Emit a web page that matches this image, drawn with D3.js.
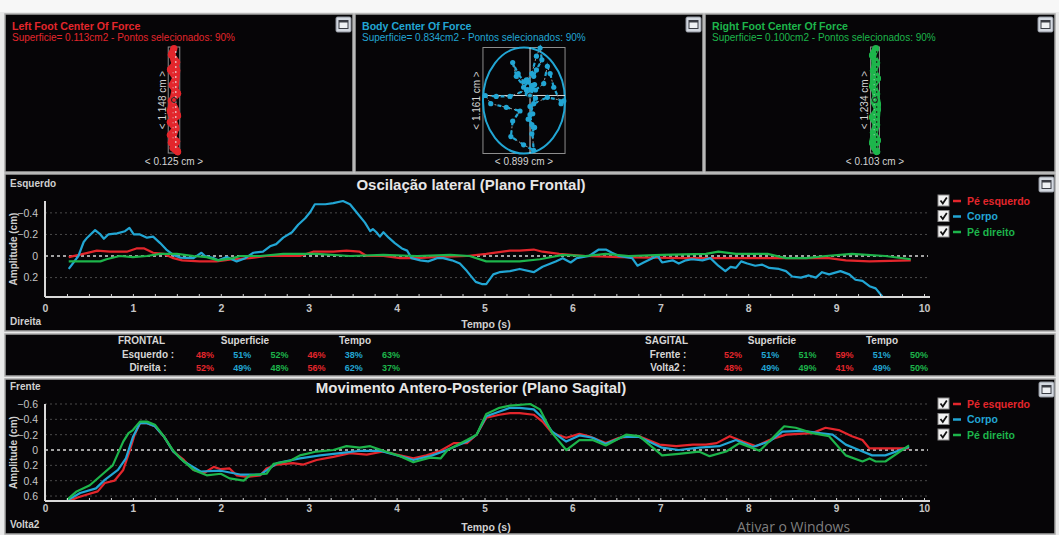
<!doctype html>
<html>
<head>
<meta charset="utf-8">
<script src="https://cdnjs.cloudflare.com/ajax/libs/d3/7.8.5/d3.min.js"></script>
<style>
body { margin: 0; background: #e9e9e9; }
svg { display: block; font-family: "Liberation Sans", Arial, sans-serif; }
</style>
</head>
<body>
<svg width="1059" height="535"></svg>
<script>
// series
const seriesNames = ["Pé esquerdo", "Corpo", "Pé direito"];
const seriesColors = ["#e3262c", "#22a6d4", "#1db54b"];

// ticks
const xTicks = [0, 1, 2, 3, 4, 5, 6, 7, 8, 9, 10];
const frontalTicks = [-0.4, -0.2, 0, 0.2];
const sagitalTicks = [-0.6, -0.4, -0.2, 0, 0.2, 0.4, 0.6];

// lateral oscillation (t s, amplitude cm)
const frontalEsq = [[0.27,0.01],[0.46,-0.025],[0.59,-0.05],[0.74,-0.04],[0.93,-0.04],[1.04,-0.07],[1.13,-0.07],[1.23,-0.03],[1.35,-0.02],[1.46,0.02],[1.56,0.04],[1.76,0.05],[1.95,0.05],[2.14,0.03],[2.33,0.02],[2.52,0],[2.9,0],[3.05,-0.04],[3.28,-0.04],[3.43,-0.05],[3.58,-0.04],[3.66,0],[3.85,0],[4.04,0.02],[4.23,0.02],[4.42,0.01],[4.8,0],[5.02,-0.02],[5.29,-0.05],[5.4,-0.05],[5.56,-0.06],[5.66,-0.04],[5.85,-0.02],[6.15,0],[6.53,0.01],[7.29,0.02],[7.86,0.02],[8.43,0.02],[8.92,0.02],[9.11,0.04],[9.38,0.05],[9.85,0.04]];
const frontalCorpo = [[0.27,0.12],[0.38,0],[0.44,-0.13],[0.48,-0.17],[0.57,-0.24],[0.63,-0.2],[0.67,-0.16],[0.72,-0.2],[0.82,-0.21],[0.91,-0.23],[0.96,-0.26],[1.01,-0.2],[1.08,-0.2],[1.16,-0.17],[1.23,-0.18],[1.31,-0.12],[1.38,-0.06],[1.46,-0.01],[1.54,0.015],[1.69,0.02],[1.78,-0.03],[1.82,0],[1.92,0.02],[1.97,0.04],[2.07,0.01],[2.18,0.05],[2.28,0.02],[2.37,-0.03],[2.48,-0.04],[2.56,-0.09],[2.63,-0.11],[2.71,-0.17],[2.81,-0.22],[2.88,-0.29],[2.96,-0.35],[3.02,-0.41],[3.07,-0.48],[3.19,-0.48],[3.28,-0.49],[3.39,-0.51],[3.47,-0.48],[3.56,-0.39],[3.64,-0.31],[3.7,-0.23],[3.73,-0.25],[3.77,-0.22],[3.81,-0.18],[3.85,-0.22],[3.91,-0.17],[3.98,-0.12],[4.06,-0.07],[4.12,-0.05],[4.17,0.02],[4.27,0.04],[4.36,0.05],[4.46,0.02],[4.53,0.02],[4.63,0.04],[4.72,0.07],[4.8,0.14],[4.86,0.2],[4.9,0.24],[4.97,0.26],[5.02,0.26],[5.1,0.17],[5.17,0.15],[5.29,0.14],[5.4,0.12],[5.56,0.15],[5.66,0.1],[5.81,0.05],[5.89,0.02],[5.98,0.06],[6.05,0.02],[6.19,0],[6.3,-0.06],[6.38,-0.06],[6.45,-0.03],[6.53,0],[6.68,0.02],[6.74,0.09],[6.81,0.06],[6.91,0.02],[6.97,0],[7.02,0.06],[7.14,0.04],[7.21,0.07],[7.29,0.04],[7.36,0.03],[7.48,0.04],[7.57,0.02],[7.66,0.09],[7.74,0.14],[7.8,0.1],[7.86,0.11],[7.92,0.05],[7.99,0.07],[8.08,0.09],[8.16,0.08],[8.24,0.11],[8.35,0.12],[8.43,0.14],[8.5,0.19],[8.6,0.2],[8.69,0.18],[8.77,0.2],[8.84,0.15],[8.92,0.17],[9.05,0.14],[9.15,0.17],[9.22,0.22],[9.3,0.23],[9.38,0.28],[9.45,0.3],[9.53,0.38],[9.85,0.38]];
const frontalDir = [[0.27,0.05],[0.44,0.05],[0.63,0.05],[0.7,0.03],[0.85,0],[1,0.01],[1.16,0],[1.31,-0.02],[1.5,-0.02],[1.69,0],[1.84,0.01],[1.97,0.04],[2.14,0.02],[2.22,0],[2.45,0],[2.71,-0.02],[3.09,-0.02],[3.47,0],[3.85,-0.01],[4.23,0],[4.61,-0.01],[4.83,0],[5.02,0.05],[5.29,0.05],[5.4,0.05],[5.63,0.03],[5.89,-0.01],[6.15,0],[6.38,-0.02],[6.64,0],[7.02,-0.01],[7.52,-0.02],[7.66,-0.04],[7.86,-0.02],[8.22,-0.02],[8.43,0.02],[8.66,0.02],[8.88,0],[9.18,-0.02],[9.56,0],[9.85,0.03]];

// antero-posterior movement (t s, amplitude cm)
const sagitalEsq = [[0.28,0.66],[0.37,0.62],[0.48,0.58],[0.6,0.54],[0.68,0.43],[0.79,0.4],[0.89,0.26],[0.96,0.02],[1.02,-0.2],[1.08,-0.35],[1.16,-0.35],[1.25,-0.31],[1.35,-0.18],[1.46,0.02],[1.58,0.13],[1.69,0.26],[1.81,0.3],[1.92,0.22],[2,0.25],[2.1,0.24],[2.18,0.33],[2.3,0.35],[2.45,0.33],[2.52,0.24],[2.64,0.19],[2.82,0.17],[2.94,0.19],[3.09,0.13],[3.28,0.09],[3.47,0.04],[3.66,0.06],[3.85,0.02],[4.04,0.07],[4.19,0.11],[4.34,0.07],[4.5,0.01],[4.65,-0.09],[4.8,-0.09],[4.91,-0.2],[5.02,-0.42],[5.17,-0.46],[5.29,-0.48],[5.4,-0.48],[5.56,-0.46],[5.66,-0.37],[5.77,-0.22],[5.93,-0.16],[6.08,-0.21],[6.19,-0.18],[6.38,-0.09],[6.53,-0.16],[6.76,-0.18],[6.99,-0.07],[7.18,-0.05],[7.37,-0.07],[7.52,-0.07],[7.64,-0.09],[7.79,-0.18],[7.94,-0.11],[8.09,-0.05],[8.24,-0.13],[8.43,-0.2],[8.58,-0.21],[8.73,-0.22],[8.88,-0.29],[9.03,-0.26],[9.18,-0.18],[9.3,-0.13],[9.38,-0.02],[9.56,-0.02],[9.83,-0.02]];
const sagitalCorpo = [[0.25,0.66],[0.4,0.56],[0.58,0.5],[0.68,0.39],[0.83,0.26],[0.92,0.11],[1,-0.17],[1.08,-0.35],[1.16,-0.35],[1.25,-0.31],[1.35,-0.18],[1.46,0.02],[1.58,0.15],[1.77,0.28],[2,0.27],[2.22,0.32],[2.45,0.32],[2.64,0.17],[2.9,0.11],[3.13,0.07],[3.36,0.04],[3.58,0.01],[3.81,0.01],[4.04,0.08],[4.19,0.13],[4.38,0.08],[4.53,0.02],[4.8,-0.11],[4.91,-0.2],[5.02,-0.44],[5.29,-0.55],[5.4,-0.55],[5.56,-0.53],[5.66,-0.42],[5.77,-0.24],[5.93,-0.11],[6.08,-0.19],[6.23,-0.16],[6.38,-0.08],[6.57,-0.17],[6.76,-0.17],[7.02,-0.03],[7.21,0],[7.44,-0.03],[7.67,-0.05],[7.86,-0.13],[8.05,-0.04],[8.24,-0.11],[8.39,-0.24],[8.62,-0.25],[8.81,-0.22],[8.96,-0.2],[9.11,-0.07],[9.26,0],[9.41,0.07],[9.56,0.07],[9.83,-0.04]];
const sagitalDir = [[0.25,0.65],[0.36,0.54],[0.51,0.46],[0.66,0.31],[0.77,0.2],[0.89,-0.11],[0.95,-0.22],[1,-0.26],[1.08,-0.37],[1.16,-0.37],[1.25,-0.33],[1.35,-0.18],[1.46,0.01],[1.54,0.11],[1.69,0.26],[1.84,0.33],[2,0.31],[2.1,0.37],[2.26,0.4],[2.33,0.33],[2.52,0.31],[2.6,0.18],[2.79,0.14],[2.9,0.07],[3.09,0.02],[3.28,0],[3.43,-0.05],[3.58,-0.03],[3.7,-0.05],[3.85,0.01],[4.04,0.08],[4.19,0.16],[4.38,0.1],[4.5,0.11],[4.58,0],[4.8,-0.13],[4.91,-0.2],[5.02,-0.47],[5.17,-0.55],[5.29,-0.58],[5.52,-0.6],[5.63,-0.53],[5.77,-0.22],[5.93,0],[6.08,-0.13],[6.23,-0.13],[6.38,-0.06],[6.61,-0.2],[6.76,-0.18],[7.02,0.07],[7.21,0.05],[7.44,0.02],[7.56,0.08],[7.75,0.02],[7.9,-0.09],[8.13,0.01],[8.28,-0.16],[8.41,-0.31],[8.54,-0.29],[8.73,-0.22],[8.92,-0.18],[9.11,0.07],[9.3,0.15],[9.38,0.11],[9.45,0.15],[9.56,0.15],[9.83,-0.06]];

// summary table
const frontalRows = ["Esquerdo :", "Direita :"];
const frontalValues = [[48, 51, 52, 46, 38, 63], [52, 49, 48, 56, 62, 37]];
const sagitalRows = ["Frente :", "Volta2 :"];
const sagitalValues = [[52, 51, 51, 59, 51, 50], [48, 49, 49, 41, 49, 50]];

// centre of force panels (cm, y down, relative to mean point)
const leftFootX = [0.00,-0.03,0.03,-0.04,0.02,-0.02,0.04,-0.03,0.01,0.04,-0.04,0.02,-0.04,0.03,-0.01,0.04,-0.03,0.02,-0.04,0.01,0.03,-0.02];
const leftFootY = [-0.56,-0.49,-0.41,-0.33,-0.24,-0.16,-0.07,0.01,0.09,0.17,0.24,0.31,0.38,0.45,0.52,0.56,0.46,0.30,0.12,-0.10,-0.32,-0.50];
const bodyX = [0,0.02,-0.04,0.04,0.07,0.13,0.11,0.07,0.02,-0.07,-0.13,-0.19,-0.15,-0.04,-0.22,-0.37,-0.49,-0.43,-0.26,-0.11,-0.19,-0.21,-0.07,0.04,0.02,0,0.04,0.19,0.37,0.34,0.26,0.22,0.19,0.15,0.06,-0.07,-0.02,0.03,0.01,0.05,-0.03,0.06,0.0,0.03,-0.02,0.05,0.02];
const bodyY = [0,-0.09,-0.17,-0.21,-0.28,-0.39,-0.52,-0.43,-0.24,-0.15,-0.24,-0.36,-0.21,-0.06,0.01,0.01,0,0.09,0.13,0.17,0.28,0.45,0.54,0.6,0.32,0.21,0.09,0.02,0.06,0.09,-0.09,-0.24,-0.32,-0.13,-0.06,-0.09,-0.15,-0.11,-0.05,-0.12,-0.02,0.03,0.12,0.2,0.26,0.35,0.42];
const rightFootX = [0.01,-0.03,0.02,-0.02,0.03,-0.03,0.02,-0.01,0.03,-0.03,0.02,-0.02,0.03,-0.01,0.02,-0.03,0.01,0.03,-0.02,0.0];
const rightFootY = [-0.60,-0.52,-0.43,-0.34,-0.25,-0.16,-0.07,0.02,0.11,0.2,0.29,0.38,0.47,0.55,0.6,0.5,0.3,0.05,-0.2,-0.45];

const svg = d3.select("svg");
const W = 1059, H = 535;

svg.append("rect").attr("width", W).attr("height", H).attr("fill", "#e9e9e9");
svg.append("rect").attr("width", W).attr("height", 12).attr("fill", "#f7f7f7");

function panel(x, y, w, h) {
  svg.append("rect").attr("x", x).attr("y", y).attr("width", w).attr("height", h)
    .attr("fill", "#060507").attr("stroke", "#a8a8a8").attr("stroke-width", 1.5);
}

function maxButton(x, y) {
  const g = svg.append("g").attr("transform", `translate(${x},${y})`);
  g.append("rect").attr("width", 15).attr("height", 15).attr("rx", 1.5)
    .attr("fill", "#d3d8e0").attr("stroke", "#8c919a");
  g.append("rect").attr("x", 3).attr("y", 3.5).attr("width", 9).attr("height", 8)
    .attr("fill", "#eef0f3").attr("stroke", "#3a3d44").attr("stroke-width", 1);
  g.append("rect").attr("x", 3).attr("y", 3.5).attr("width", 9).attr("height", 2).attr("fill", "#3a3d44");
}

// ---- centre of force panels ----
const cops = [
  {x: 5, w: 348, title: "Left Foot Center Of Force", sub: "Superficie= 0.113cm2 - Pontos selecionados: 90%",
   color: seriesColors[0], cx: 174, cy: 100, wcm: 0.125, hcm: 1.148, mean: [0, 0], xs: leftFootX, ys: leftFootY, band: true},
  {x: 355, w: 348, title: "Body Center Of Force", sub: "Superficie= 0.834cm2 - Pontos selecionados: 90%",
   color: seriesColors[1], cx: 524, cy: 100.5, wcm: 0.899, hcm: 1.161, mean: [0.066, -0.055], xs: bodyX, ys: bodyY, band: false},
  {x: 705, w: 350, title: "Right Foot Center Of Force", sub: "Superficie= 0.100cm2 - Pontos selecionados: 90%",
   color: seriesColors[2], cx: 875, cy: 100, wcm: 0.103, hcm: 1.234, mean: [0, 0], xs: rightFootX, ys: rightFootY, band: true}
];

cops.forEach(p => {
  panel(p.x, 14, p.w, 158);
  maxButton(p.x + p.w - 17, 17);
  svg.append("text").attr("x", p.x + 7).attr("y", 30).attr("fill", p.color)
    .attr("font-size", 10.6).attr("font-weight", "bold").text(p.title);
  svg.append("text").attr("x", p.x + 7).attr("y", 41).attr("fill", p.color)
    .attr("font-size", 10).text(p.sub);

  const k = 106 / p.hcm;
  const sx = d3.scaleLinear().domain([-p.wcm / 2, p.wcm / 2]).range([p.cx - p.wcm * k / 2, p.cx + p.wcm * k / 2]);
  const sy = d3.scaleLinear().domain([-p.hcm / 2, p.hcm / 2]).range([p.cy - 53, p.cy + 53]);
  const g = svg.append("g");

  g.append("rect").attr("x", sx(-p.wcm / 2)).attr("y", sy(-p.hcm / 2))
    .attr("width", sx(p.wcm / 2) - sx(-p.wcm / 2)).attr("height", sy(p.hcm / 2) - sy(-p.hcm / 2))
    .attr("fill", "none").attr("stroke", "#8d8d8d").attr("stroke-width", 1);

  const pts = p.xs.map((v, i) => [sx(v + p.mean[0]), sy(p.ys[i] + p.mean[1])]);
  if (p.band) {
    g.append("path").attr("d", d3.line()(pts)).attr("fill", "none")
      .attr("stroke", p.color).attr("stroke-width", 7).attr("stroke-linejoin", "round");
    g.selectAll(null).data(pts).enter().append("circle")
      .attr("cx", d => d[0]).attr("cy", d => d[1]).attr("r", 3.4).attr("fill", p.color);
    g.append("line").attr("x1", sx(0.02)).attr("x2", sx(0.02))
      .attr("y1", sy(-p.hcm / 2) + 4).attr("y2", sy(p.hcm / 2) - 4)
      .attr("stroke", p.color === seriesColors[2] ? "#1b1b1b" : "#f0f0f0")
      .attr("stroke-width", 1).attr("stroke-dasharray", "2,3");
    g.append("line").attr("x1", sx(-0.01)).attr("x2", sx(-0.01))
      .attr("y1", sy(-0.3)).attr("y2", sy(0.45))
      .attr("stroke", "#dcdcdc").attr("stroke-width", 0.8).attr("stroke-dasharray", "1,4");
    g.append("circle").attr("cx", sx(0)).attr("cy", sy(0)).attr("r", 2.5)
      .attr("fill", "none").attr("stroke", "#222").attr("stroke-width", 1);
  } else {
    g.append("ellipse").attr("cx", p.cx).attr("cy", p.cy)
      .attr("rx", sx(p.wcm / 2) - p.cx).attr("ry", sy(p.hcm / 2) - p.cy)
      .attr("fill", "none").attr("stroke", p.color).attr("stroke-width", 2);
    g.append("line").attr("x1", sx(p.mean[0])).attr("x2", sx(p.mean[0]))
      .attr("y1", sy(-p.hcm / 2)).attr("y2", sy(p.hcm / 2)).attr("stroke", "#d8d8d8");
    g.append("line").attr("x1", sx(-p.wcm / 2)).attr("x2", sx(p.wcm / 2))
      .attr("y1", sy(p.mean[1])).attr("y2", sy(p.mean[1])).attr("stroke", "#d8d8d8");
    g.append("path").attr("d", d3.line()(pts)).attr("fill", "none")
      .attr("stroke", "#9a9a9a").attr("stroke-width", 1).attr("stroke-dasharray", "2,2");
    g.append("path").attr("d", d3.line()(pts)).attr("fill", "none")
      .attr("stroke", p.color).attr("stroke-width", 2.2).attr("stroke-dasharray", "4,5");
    g.selectAll(null).data(pts).enter().append("circle")
      .attr("cx", d => d[0]).attr("cy", d => d[1]).attr("r", 2.6).attr("fill", p.color);
    g.append("circle").attr("cx", sx(p.mean[0])).attr("cy", sy(p.mean[1])).attr("r", 2.5)
      .attr("fill", "none").attr("stroke", "#222");
  }

  svg.append("text").attr("transform", `translate(${sx(-p.wcm / 2) - 6},${p.cy}) rotate(-90)`)
    .attr("text-anchor", "middle").attr("dy", "0.35em").attr("fill", "#d4d4d4").attr("font-size", 10)
    .text(`< ${p.hcm.toFixed(3)} cm >`);
  svg.append("text").attr("x", p.cx).attr("y", 165).attr("text-anchor", "middle")
    .attr("fill", "#d4d4d4").attr("font-size", 10).text(`< ${p.wcm.toFixed(3)} cm >`);
});

// ---- time series charts ----
const x = d3.scaleLinear().domain([0, 10]).range([45, 924]);

const charts = [
  {box: [5, 174, 1050, 157], top: 201, bottom: 297, domain: [-0.51, 0.38], ticks: frontalTicks,
   title: "Oscilação lateral (Plano Frontal)", upper: "Esquerdo", lower: "Direita",
   series: [frontalEsq, frontalCorpo, frontalDir]},
  {box: [5, 379, 1050, 155], top: 404, bottom: 501, domain: [-0.6, 0.665], ticks: sagitalTicks,
   title: "Movimento Antero-Posterior (Plano Sagital)", upper: "Frente", lower: "Volta2",
   series: [sagitalEsq, sagitalCorpo, sagitalDir]}
];

charts.forEach((c, ci) => {
  const [bx, by, bw, bh] = c.box;
  panel(bx, by, bw, bh);
  maxButton(bx + bw - 16, by + 3);
  const y = d3.scaleLinear().domain(c.domain).range([c.top, c.bottom]);
  const g = svg.append("g");

  // grid
  g.selectAll(null).data(c.ticks).enter().append("line")
    .attr("x1", x(0)).attr("x2", x(10) + 4)
    .attr("y1", d => y(d)).attr("y2", d => y(d))
    .attr("stroke", d => d === 0 ? "#d6d6d6" : "#4a4a4a")
    .attr("stroke-width", d => d === 0 ? 1.3 : 1)
    .attr("stroke-dasharray", d => d === 0 ? "3,3" : "2,3");

  // series
  const line = d3.line().x(d => x(d[0])).y(d => y(d[1]));
  c.series.forEach((s, i) => {
    g.append("path").datum(s).attr("d", line).attr("fill", "none")
      .attr("stroke", seriesColors[i]).attr("stroke-width", 2.2).attr("stroke-linejoin", "round");
  });

  // axes
  const yAxis = g.append("g").attr("transform", `translate(${x(0)},0)`)
    .call(d3.axisLeft(y).tickValues(c.ticks).tickSize(0).tickPadding(7).tickFormat(d3.format("")));
  yAxis.select(".domain").remove();
  yAxis.selectAll("text").attr("fill", "#c6c6c6").attr("font-size", 10.5)
    .attr("font-family", "Liberation Sans, Arial, sans-serif");

  const xMinor = g.append("g").attr("transform", `translate(0,${c.bottom})`)
    .call(d3.axisBottom(x).tickValues(d3.range(0, 10.01, 0.25)).tickSize(-3).tickFormat(""));
  xMinor.select(".domain").remove();
  xMinor.selectAll("line").attr("stroke", "#cfcfcf");

  const xAxis = g.append("g").attr("transform", `translate(0,${c.bottom})`)
    .call(d3.axisBottom(x).tickValues(xTicks).tickSize(0).tickPadding(ci ? 4 : 8).tickFormat(d3.format("d")));
  xAxis.select(".domain").remove();
  xAxis.selectAll("text").attr("fill", "#c6c6c6").attr("font-size", ci ? 10 : 10.5).attr("font-weight", "bold")
    .attr("font-family", "Liberation Sans, Arial, sans-serif");

  g.append("line").attr("x1", x(0)).attr("x2", x(0)).attr("y1", c.top).attr("y2", c.bottom)
    .attr("stroke", "#d9d9d9").attr("stroke-width", 2);
  g.append("line").attr("x1", x(0)).attr("x2", x(10) + 6).attr("y1", c.bottom).attr("y2", c.bottom)
    .attr("stroke", "#d9d9d9").attr("stroke-width", 2);

  // labels
  svg.append("text").attr("x", 471).attr("y", c.top - 11).attr("text-anchor", "middle")
    .attr("fill", "#e6e6e6").attr("font-size", 15).attr("font-weight", "bold").text(c.title);
  svg.append("text").attr("x", 10).attr("y", c.top - 14).attr("fill", "#d0d0d0")
    .attr("font-size", 10).attr("font-weight", "bold").text(c.upper);
  svg.append("text").attr("x", 10).attr("y", by + bh - 6).attr("fill", "#d0d0d0")
    .attr("font-size", 10).attr("font-weight", "bold").text(c.lower);
  svg.append("text").attr("x", 486).attr("y", by + bh - 3.5).attr("text-anchor", "middle")
    .attr("fill", "#d0d0d0").attr("font-size", 10.5).attr("font-weight", "bold").text("Tempo (s)");
  svg.append("text").attr("transform", `translate(17,${(c.top + c.bottom) / 2}) rotate(-90)`)
    .attr("text-anchor", "middle").attr("fill", "#d0d0d0").attr("font-size", 10)
    .attr("font-weight", "bold").text("Amplitude (cm)");

  // legend
  const lg = svg.append("g").attr("transform", `translate(938,${c.top})`);
  seriesNames.forEach((name, i) => {
    const e = lg.append("g").attr("transform", `translate(0,${i * 15.5})`);
    e.append("rect").attr("x", 0).attr("y", -6).attr("width", 11).attr("height", 11)
      .attr("fill", "#f2f2f2").attr("stroke", "#8a8a8a");
    e.append("path").attr("d", "M2.5,-0.5 L4.8,2.5 L8.8,-3.5").attr("fill", "none")
      .attr("stroke", "#111").attr("stroke-width", 1.8);
    e.append("line").attr("x1", 15).attr("x2", 23).attr("y1", 0).attr("y2", 0)
      .attr("stroke", seriesColors[i]).attr("stroke-width", 2.5);
    e.append("text").attr("x", 29).attr("y", 0).attr("dy", "0.35em").attr("fill", seriesColors[i])
      .attr("font-size", 10.5).attr("font-weight", "bold").text(name);
  });
});

// ---- summary table ----
panel(5, 334, 1050, 42);
const tables = [
  {label: "FRONTAL", lx: 118, rowX: 148, supX: 245, tempoX: 355, valX0: 205, rows: frontalRows, vals: frontalValues},
  {label: "SAGITAL", lx: 645, rowX: 668, supX: 772, tempoX: 882, valX0: 733, rows: sagitalRows, vals: sagitalValues}
];
tables.forEach(t => {
  const head = [[t.label, t.lx, "start"], ["Superficie", t.supX, "middle"], ["Tempo", t.tempoX, "middle"]];
  head.forEach(h => {
    svg.append("text").attr("x", h[1]).attr("y", 344).attr("text-anchor", h[2])
      .attr("fill", "#d6d6d6").attr("font-size", 10).attr("font-weight", "bold").text(h[0]);
  });
  t.rows.forEach((r, ri) => {
    const yy = 358 + ri * 13;
    svg.append("text").attr("x", t.rowX).attr("y", yy).attr("text-anchor", "middle")
      .attr("fill", "#d6d6d6").attr("font-size", 10).attr("font-weight", "bold").text(r);
    t.vals[ri].forEach((v, ci) => {
      svg.append("text").attr("x", t.valX0 + ci * 37.2).attr("y", yy).attr("text-anchor", "middle")
        .attr("fill", seriesColors[ci % 3]).attr("font-size", 9).attr("font-weight", "bold").text(v + "%");
    });
  });
});

// watermark
svg.append("text").attr("x", 737).attr("y", 531.5).attr("fill", "#8e8e8e").attr("fill-opacity", 0.9)
  .attr("font-family", "Open Sans, Noto Sans, sans-serif").attr("font-size", 14).text("Ativar o Windows");
</script>
</body>
</html>
